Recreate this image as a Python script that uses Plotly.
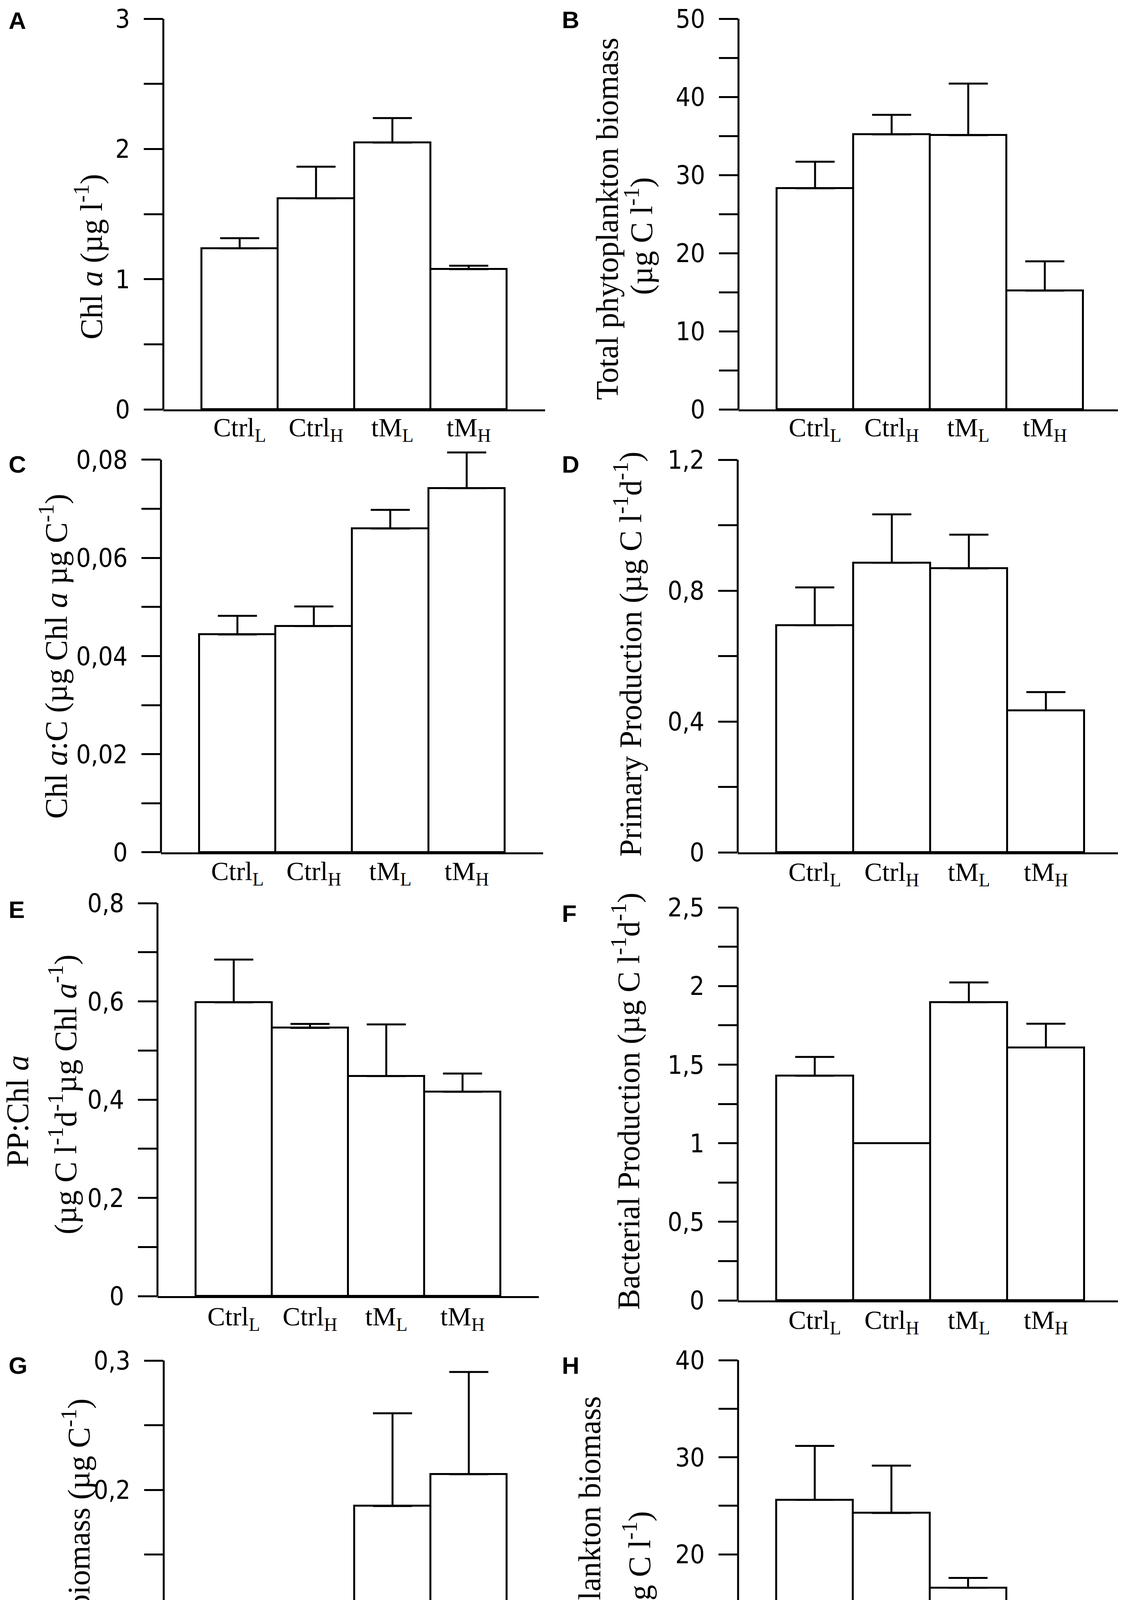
import plotly.graph_objects as go

W, H = 2869, 4586

# ---------------- data ----------------
categories = ["Ctrl<sub>L</sub>", "Ctrl<sub>H</sub>", "tM<sub>L</sub>", "tM<sub>H</sub>"]

chl_a = [1.237, 1.621, 2.049, 1.077]
chl_a_err = [0.078, 0.243, 0.188, 0.026]

phyto = [28.3, 35.2, 35.1, 15.2]
phyto_err = [3.4, 2.5, 6.6, 3.75]

chl_c = [0.0444, 0.0461, 0.0660, 0.0742]
chl_c_err = [0.0038, 0.0040, 0.0038, 0.0073]

prim_prod = [0.694, 0.885, 0.868, 0.434]
prim_prod_err = [0.116, 0.148, 0.103, 0.056]

pp_chl = [0.598, 0.546, 0.448, 0.416]
pp_chl_err = [0.087, 0.008, 0.105, 0.037]

bact_prod = [1.429, 1.0, 1.897, 1.609]
bact_prod_err = [0.120, 0.0, 0.126, 0.151]

ciliates = [0.0135, 0.0309, 0.1875, 0.2121]
ciliates_err = [0.0077, 0.0135, 0.0717, 0.0791]

zoo = [25.6, 24.26, 16.55, 5.56]
zoo_err = [5.57, 4.87, 1.02, 1.26]

# labelled (major) ticks; an unlabelled minor tick sits half way between them
ticks_A = ["0", "1", "2", "3"]
ticks_B = ["0", "10", "20", "30", "40", "50"]
ticks_C = ["0", "0,02", "0,04", "0,06", "0,08"]
ticks_D = ["0", "0,4", "0,8", "1,2"]
ticks_E = ["0", "0,2", "0,4", "0,6", "0,8"]
ticks_F = ["0", "0,5", "1", "1,5", "2", "2,5"]
ticks_G = ["0", "0,1", "0,2", "0,3"]
ticks_H = ["0", "10", "20", "30", "40"]

titles = {
    "A": ["Chl <i>a</i> (µg l<sup>-1</sup>)"],
    "B": ["Total phytoplankton biomass", "(µg C l<sup>-1</sup>)"],
    "C": ["Chl <i>a</i>:C (µg Chl <i>a</i> µg C<sup>-1</sup>)"],
    "D": ["Primary Production (µg C l<sup>-1</sup>d<sup>-1</sup>)"],
    "E": ["PP:Chl <i>a</i>", "(µg C l<sup>-1</sup>d<sup>-1</sup>µg Chl <i>a</i><sup>-1</sup>)"],
    "F": ["Bacterial Production (µg C l<sup>-1</sup>d<sup>-1</sup>)"],
    "G": ["Ciliates biomass (µg C<sup>-1</sup>)"],
    "H": ["Total zooplankton biomass", "(µg C l<sup>-1</sup>)"],
}

# ---------------- panel layout (pixels) ----------------
panels = [
    dict(L="A", v=chl_a, e=chl_a_err, ymax=3, step=1, tt=ticks_A, xd=(410, 1387), yd=(40, 1040),
         tpos=[(220, 649)], lpos=(12, 8), xs_off=-18),
    dict(L="B", v=phyto, e=phyto_err, ymax=50, step=10, tt=ticks_B, xd=(1882, 2862), yd=(40, 1040),
         tpos=[(1546, 552), (1628, 596)], lpos=(1428, 6), xs_off=-18),
    dict(L="C", v=chl_c, e=chl_c_err, ymax=0.08, step=0.02, tt=ticks_C, xd=(404, 1382), yd=(1169, 2174),
         tpos=[(130, 1672)], lpos=(12, 1144), xs_off=-16),
    dict(L="D", v=prim_prod, e=prim_prod_err, ymax=1.2, step=0.4, tt=ticks_D, xd=(1880, 2866), yd=(1169, 2174),
         tpos=[(1600, 1667)], lpos=(1428, 1144), xs_off=-14),
    dict(L="E", v=pp_chl, e=pp_chl_err, ymax=0.8, step=0.2, tt=ticks_E, xd=(395, 1371), yd=(2304, 3310),
         tpos=[(37, 2837), (154, 2794)], lpos=(12, 2284), xs_off=-12),
    dict(L="F", v=bact_prod, e=bact_prod_err, ymax=2.5, step=0.5, tt=ticks_F, xd=(1880, 2866), yd=(2315, 3321),
         tpos=[(1595, 2811)], lpos=(1428, 2294), xs_off=-14),
    dict(L="G", v=ciliates, e=ciliates_err, ymax=0.3, step=0.1, tt=ticks_G, xd=(411, 1387), yd=(3475, 4468),
         tpos=[(188, 3975)], lpos=(12, 3451), xs_off=-36),
    dict(L="H", v=zoo, e=zoo_err, ymax=40, step=10, tt=ticks_H, xd=(1881, 2862), yd=(3474, 4468),
         tpos=[(1501, 3997), (1623, 4011)], lpos=(1428, 3451), xs_off=-36),
]

SERIF = "Liberation Serif, Times New Roman, serif"
NARROW = "Liberation Sans Narrow, Arial Narrow, DejaVu Sans Condensed, Liberation Sans, sans-serif"
SANS = "Liberation Sans, Arial, sans-serif"
LW = 5

fig = go.Figure()
layout = dict(template="none", width=W, height=H, margin=dict(l=0, r=0, t=0, b=0, autoexpand=False),
              paper_bgcolor="white", plot_bgcolor="white", showlegend=False,
              font=dict(family=SERIF, color="black"),
              bargap=0, annotations=[], shapes=[])

xs = list(range(len(categories)))
for i, p in enumerate(panels):
    n = "" if i == 0 else str(i + 1)
    xa, ya = "x" + n, "y" + n
    fig.add_trace(go.Bar(x=xs, y=p["v"], xaxis=xa, yaxis=ya, width=1.0,
                         marker=dict(color="white", line=dict(color="black", width=LW))))
    fig.add_trace(go.Scatter(x=xs, y=p["v"], xaxis=xa, yaxis=ya, mode="markers",
                             marker=dict(size=1, color="rgba(0,0,0,0)"), cliponaxis=False,
                             error_y=dict(type="data", array=p["e"], arrayminus=[0] * 4, symmetric=False,
                                          color="black", thickness=LW, width=50)))
    x0, x1 = p["xd"]
    ytop, yzero = p["yd"]
    # headroom so that error bars above the last tick are not clipped
    top_val = max(p["ymax"], max(a + b for a, b in zip(p["v"], p["e"])) * 1.01)
    ytop_ext = yzero - (yzero - ytop) * top_val / p["ymax"]
    major = [round(k * p["step"], 6) for k in range(len(p["tt"]))]
    minor = [round((k + 0.5) * p["step"], 6) for k in range(len(p["tt"]) - 1)]
    layout["xaxis" + n] = dict(domain=[x0 / W, x1 / W], anchor=ya, range=[-1.0, 4.0],
                               showline=True, linecolor="black", linewidth=LW, ticks="",
                               tickvals=xs, ticktext=categories, showgrid=False, zeroline=False,
                               automargin=False, ticklabelstandoff=p["xs_off"], ticklabeloverflow="allow",
                               tickfont=dict(family=SERIF, size=68, color="black"), fixedrange=True)
    layout["yaxis" + n] = dict(domain=[1 - yzero / H, 1 - ytop_ext / H], anchor=xa, range=[0, top_val],
                               showline=False,
                               ticks="outside", ticklen=49, tickwidth=LW, tickcolor="black",
                               tickvals=major, ticktext=p["tt"], showgrid=False, zeroline=False,
                               minor=dict(tickvals=minor, ticks="outside", ticklen=49, tickwidth=LW,
                                          tickcolor="black", showgrid=False),
                               automargin=False, ticklabelstandoff=22, ticklabeloverflow="allow",
                               tickfont=dict(family=NARROW, size=66, color="black"), fixedrange=True)
    # y-axis line up to the last tick
    layout["shapes"].append(dict(type="line", xref=xa + " domain", yref=ya, x0=0, x1=0, y0=0, y1=p["ymax"],
                                 line=dict(color="black", width=LW)))
    for (tx, ty), txt in zip(p["tpos"], titles[p["L"]]):
        layout["annotations"].append(dict(text=txt, x=tx / W, y=1 - ty / H, xref="paper", yref="paper",
                                          xanchor="center", yanchor="middle", textangle=-90, showarrow=False,
                                          font=dict(family=SERIF, size=80, color="black")))
    lx, ly = p["lpos"]
    layout["annotations"].append(dict(text="<b>" + p["L"] + "</b>", x=lx / W, y=1 - ly / H,
                                      xref="paper", yref="paper", xanchor="left", yanchor="top",
                                      showarrow=False, font=dict(family=SANS, size=62, color="black")))

fig.update_layout(**layout)
fig.write_html("out.html")
